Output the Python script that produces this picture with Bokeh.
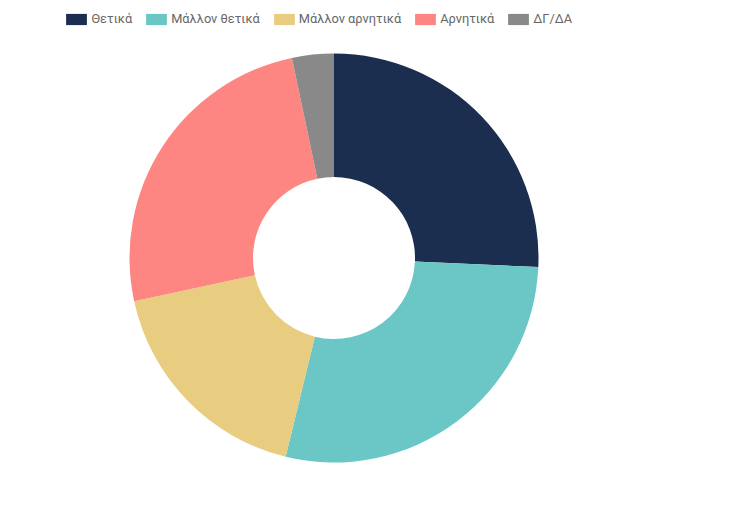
import math
from bokeh.plotting import figure
from bokeh.models import Range1d, Legend, LegendItem, ColumnDataSource
from bokeh.embed import file_html
from bokeh.resources import INLINE

categories = ["Θετικά", "Μάλλον θετικά", "Μάλλον αρνητικά", "Αρνητικά", "ΔΓ/ΔΑ"]
values = [25.7, 28.1, 17.8, 25.1, 3.3]
colors = ["#1b2e4f", "#6bc7c5", "#e8cc80", "#fd8582", "#898989"]

W, H = 718, 504
cx, cy = 333.5, H - 257.5
r_out, r_in = 204.5, 81

total = sum(values)
starts, ends = [], []
cum = 0.0
for v in values:
    a0 = cum / total * 2 * math.pi
    cum += v
    a1 = cum / total * 2 * math.pi
    starts.append(math.pi / 2 - a0)
    ends.append(math.pi / 2 - a1)

src = ColumnDataSource(dict(cat=categories, val=values, color=colors,
                            start=starts, end=ends,
                            x=[cx] * len(values), y=[cy] * len(values)))

p = figure(width=W, height=H, output_backend="svg", toolbar_location=None,
           x_range=Range1d(0, W), y_range=Range1d(0, H), min_border=0)
p.axis.visible = False
p.grid.visible = False
p.outline_line_color = None
p.background_fill_color = "white"

r = p.annular_wedge(x="x", y="y", inner_radius=r_in, outer_radius=r_out,
                    start_angle="start", end_angle="end", direction="clock",
                    color="color", line_color="white", line_width=0, source=src)

items = [LegendItem(label=c, renderers=[r], index=i) for i, c in enumerate(categories)]
legend = Legend(items=items, orientation="horizontal", location=(63.4, 478.0),
                glyph_width=26, glyph_height=14, label_height=14,
                label_standoff=2, spacing=11, padding=0, margin=0,
                label_text_font="Roboto", label_text_font_size="12.8px",
                label_text_color="#666666", border_line_alpha=0,
                background_fill_alpha=0)
p.add_layout(legend)

open("out.html", "w").write(file_html(p, INLINE))
